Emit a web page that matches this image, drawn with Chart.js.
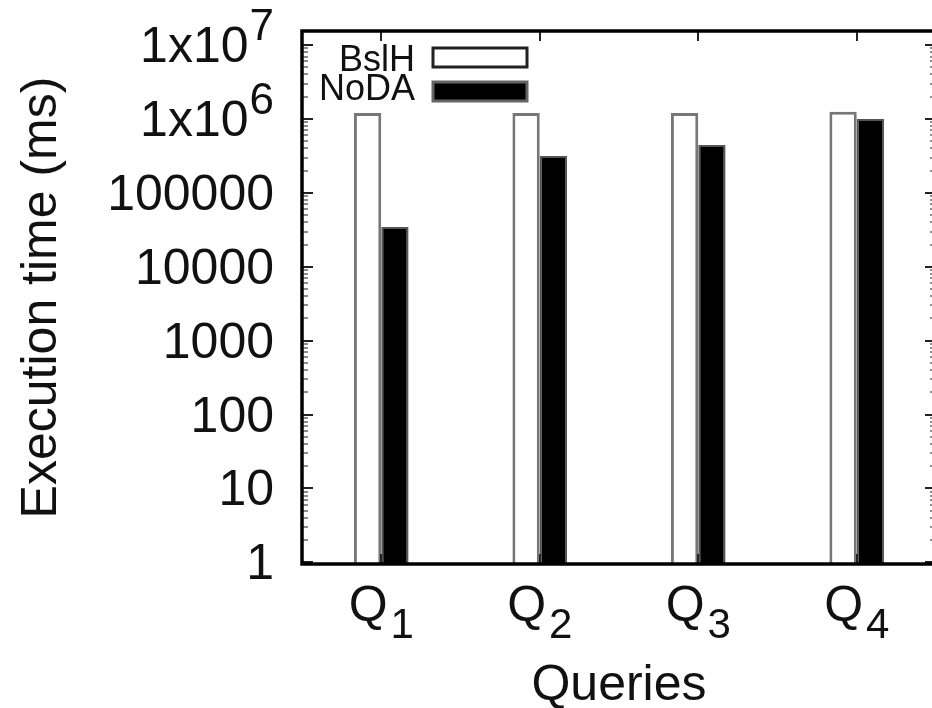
<!DOCTYPE html>
<html>
<head>
<meta charset="utf-8">
<script src="https://cdn.jsdelivr.net/npm/chart.js@4.4.0/dist/chart.umd.min.js"></script>
<style>
  html, body { margin: 0; padding: 0; background: #fff; overflow: hidden; }
  #wrap { width: 932px; height: 708px; overflow: hidden; }
</style>
</head>
<body>
<div id="wrap"><canvas id="chart" width="938" height="708"></canvas></div>
<script>
// Datos del grafico
const queries = ['Q1', 'Q2', 'Q3', 'Q4'];
const bslhTimes = [1200000, 1200000, 1200000, 1250000];
const nodaTimes = [34500, 315000, 445000, 1000000];
const yTicks = [1, 10, 100, 1000, 10000, 100000, 1000000, 10000000];
const yTickBase = ['1', '10', '100', '1000', '10000', '100000', '1x10', '1x10'];
const yTickExp = ['', '', '', '', '', '', '6', '7'];

const FONT = "'Liberation Sans', Arial, sans-serif";

// Marco, marcas de ejes, etiquetas y leyenda
const framePlugin = {
    id: 'frame',
    afterDraw(chart) {
        const ctx = chart.ctx;
        const a = chart.chartArea;
        const x = chart.scales.x;
        const y = chart.scales.y;
        ctx.save();

        // marcas menores del eje y
        ctx.strokeStyle = '#8c8c8c';
        ctx.lineWidth = 2;
        for (let k = 0; k < 8; k++) {
            for (let m = 2; m < 10; m++) {
                const v = m * Math.pow(10, k);
                if (v > y.max) break;
                const py = Math.round(y.getPixelForValue(v));
                ctx.beginPath();
                ctx.moveTo(a.left, py); ctx.lineTo(a.left + 6, py);
                ctx.moveTo(a.right, py); ctx.lineTo(a.right - 6, py);
                ctx.stroke();
            }
        }

        // marcas mayores
        ctx.strokeStyle = '#222';
        yTicks.forEach(v => {
            const py = Math.round(y.getPixelForValue(v));
            ctx.beginPath();
            ctx.moveTo(a.left, py); ctx.lineTo(a.left + 11, py);
            ctx.moveTo(a.right, py); ctx.lineTo(a.right - 11, py);
            ctx.stroke();
        });
        queries.forEach((q, i) => {
            const px = Math.round(x.getPixelForTick(i));
            ctx.beginPath();
            ctx.moveTo(px, a.top); ctx.lineTo(px, a.top + 10);
            ctx.moveTo(px, a.bottom); ctx.lineTo(px, a.bottom - 10);
            ctx.stroke();
        });

        // marco
        ctx.strokeStyle = '#000';
        ctx.lineWidth = 3.5;
        ctx.strokeRect(a.left, a.top, a.right - a.left, a.bottom - a.top);

        ctx.fillStyle = '#111';
        ctx.textBaseline = 'alphabetic';

        // etiquetas del eje y con exponente
        const labelRight = 274;
        yTicks.forEach((v, i) => {
            const base = Math.round(y.getPixelForValue(v)) + 17;
            let right = labelRight;
            if (yTickExp[i]) {
                ctx.font = '44px ' + FONT;
                ctx.textAlign = 'right';
                ctx.fillText(yTickExp[i], right, base - 22);
                right -= ctx.measureText(yTickExp[i]).width + 1;
            }
            ctx.font = '50px ' + FONT;
            ctx.textAlign = 'right';
            ctx.fillText(yTickBase[i], right, base);
        });

        // etiquetas Q con subindice
        ctx.textAlign = 'left';
        queries.forEach((q, i) => {
            const px = x.getPixelForTick(i);
            const main = q.slice(0, 1);
            const sub = q.slice(1);
            ctx.font = '50px ' + FONT;
            const w1 = ctx.measureText(main).width;
            ctx.font = '42px ' + FONT;
            const w2 = ctx.measureText(sub).width;
            const start = px - (w1 + 3 + w2) / 2;
            ctx.font = '50px ' + FONT;
            ctx.fillText(main, start, 621);
            ctx.font = '42px ' + FONT;
            ctx.fillText(sub, start + w1 + 3, 638);
        });

        // leyenda
        const sets = chart.data.datasets;
        const rows = [{ base: 71, boxTop: 48 }, { base: 100, boxTop: 82 }];
        ctx.font = '36px ' + FONT;
        ctx.textAlign = 'right';
        sets.forEach((ds, i) => {
            ctx.fillStyle = '#111';
            ctx.fillText(ds.label, 415, rows[i].base);
            ctx.fillStyle = ds.backgroundColor;
            ctx.fillRect(433, rows[i].boxTop, 94, 19);
            ctx.strokeStyle = i === 0 ? '#222' : '#666';
            ctx.lineWidth = 3;
            ctx.strokeRect(433, rows[i].boxTop, 94, 19);
        });

        ctx.restore();
    }
};

new Chart(document.getElementById('chart'), {
    type: 'bar',
    data: {
        labels: queries,
        datasets: [
            {
                label: 'BslH',
                data: bslhTimes,
                backgroundColor: '#ffffff',
                borderColor: '#777777',
                borderWidth: 3,
                categoryPercentage: 0.345,
                barPercentage: 1.0
            },
            {
                label: 'NoDA',
                data: nodaTimes,
                backgroundColor: '#000000',
                borderColor: '#555555',
                borderWidth: 2,
                categoryPercentage: 0.345,
                barPercentage: 1.0
            }
        ]
    },
    options: {
        responsive: false,
        animation: false,
        devicePixelRatio: 1,
        layout: { autoPadding: false, padding: { top: 31, left: 0, right: 2, bottom: 0 } },
        plugins: {
            legend: { display: false },
            tooltip: { enabled: false }
        },
        scales: {
            x: {
                grid: { display: false, drawTicks: false },
                border: { display: false },
                ticks: { display: false },
                title: {
                    display: true,
                    text: 'Queries',
                    color: '#111',
                    font: { family: FONT, size: 50, lineHeight: 1 },
                    padding: { top: 0, bottom: -3 }
                },
                afterFit(s) { s.height = 144; }
            },
            y: {
                type: 'logarithmic',
                min: 0.95,
                max: 15500000,
                grid: { display: false, drawTicks: false },
                border: { display: false },
                afterBuildTicks(s) { s.ticks = yTicks.map(v => ({ value: v })); },
                ticks: { display: false },
                title: {
                    display: true,
                    text: 'Execution time (ms)',
                    color: '#111',
                    font: { family: FONT, size: 50, lineHeight: 1.2 },
                    padding: { top: 12, bottom: 0 }
                },
                afterFit(s) {
                    s.width = 302;
                    s.paddingTop = 0;
                    s.paddingBottom = 0;
                }
            }
        }
    },
    plugins: [framePlugin]
});
</script>
</body>
</html>
